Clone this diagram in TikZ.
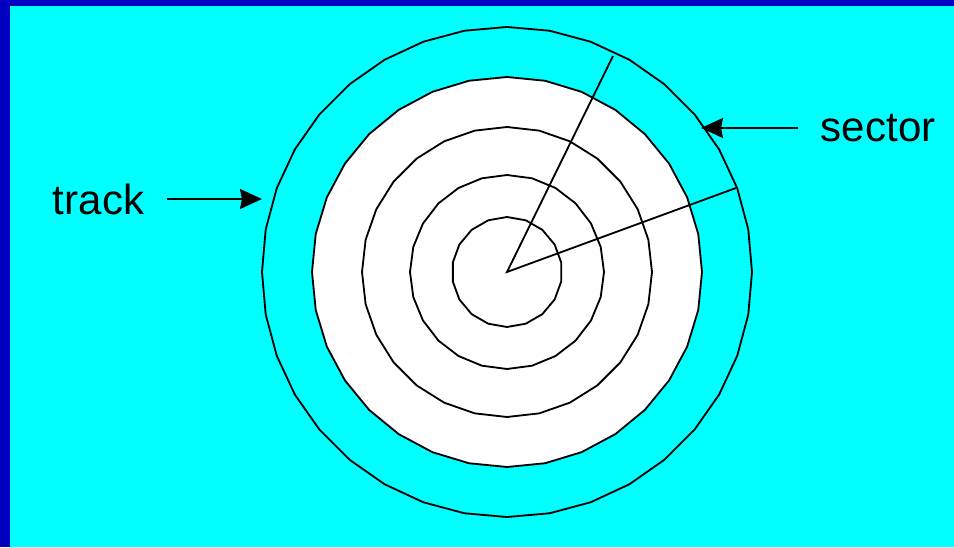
\documentclass[tikz,border=0pt]{standalone}
\usepackage{fontspec}
\setmainfont{Liberation Sans}
\usetikzlibrary{arrows.meta,positioning,calc}
\definecolor{slideblue}{RGB}{0,0,192}
\definecolor{slidecyan}{RGB}{0,255,255}

\begin{document}
\begin{tikzpicture}[x=0.025cm,y=0.025cm,line width=1.3pt,
  lbl/.style={font=\fontsize{29.9}{36}\selectfont,inner sep=0pt},
  ptr/.style={-{Stealth[length=5.5mm,width=5mm,inset=0.5mm]}}]
% slide background
\useasboundingbox (0,0) rectangle (954,547);
\fill[slideblue] (0,0) rectangle (954,547);
\fill[slidecyan] (10,0) rectangle (954,541);
% platter tracks
\coordinate (hub) at (507,275);
\foreach \r/\n/\f in {245/36/slidecyan, 195/32/white, 145/28/white, 97/24/white, 55/18/white} {
  \draw[fill=\f,shift={(hub)}] (270:\r) \foreach \k in {1,...,\n} { -- (270+\k*360/\n:\r) } -- cycle;
}
% sector boundaries
\coordinate (rimA) at (613,491);
\coordinate (rimB) at (736,359);
\draw (rimA) -- (hub) -- (rimB);
% labels
\coordinate (trackEnd) at (262,348);
\coordinate[left=2.375cm of trackEnd] (trackStart);
\node[lbl,left=0.55cm of trackStart] (track) {track};
\draw[ptr] (trackStart) -- (trackEnd);
\coordinate (sectorEnd) at (701,419);
\coordinate[right=2.425cm of sectorEnd] (sectorStart);
\node[lbl,right=0.55cm of sectorStart] (sector) {sector};
\draw[ptr] (sectorStart) -- (sectorEnd);
\end{tikzpicture}
\end{document}
